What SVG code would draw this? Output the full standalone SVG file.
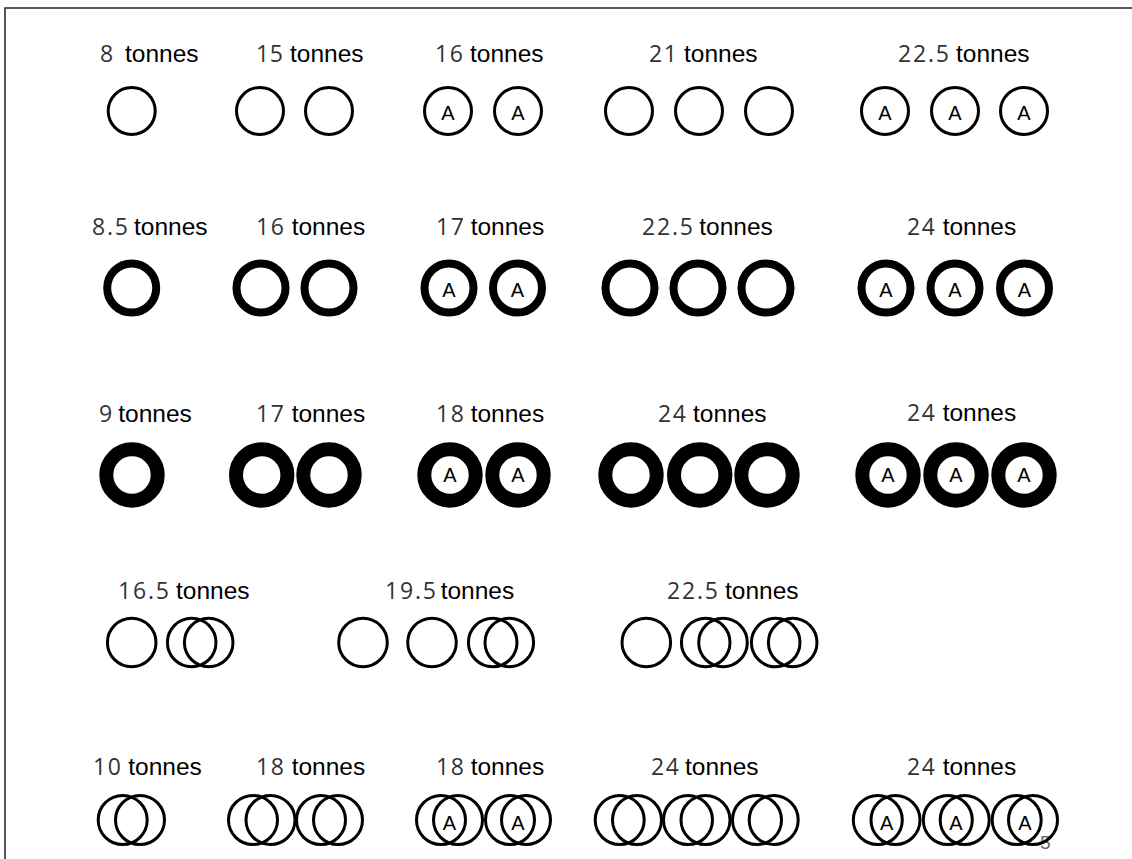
<svg xmlns="http://www.w3.org/2000/svg" width="1132" height="859" viewBox="0 0 1132 859">
<style>
.n{font-family:"Open Sans","Noto Sans",sans-serif;font-size:23px;fill:#333}
.t{font-family:"Liberation Sans",Arial,sans-serif;font-size:24.5px;fill:#000}
.a{font-family:"Liberation Sans",Arial,sans-serif;font-size:20px;fill:#000;text-anchor:middle}
.c1{fill:none;stroke:#000;stroke-width:3}
.c2{fill:none;stroke:#000;stroke-width:8}
.c3{fill:none;stroke:#000;stroke-width:14}
.pg{font-family:"Liberation Sans",Arial,sans-serif;font-size:19px;fill:#666}
</style>
<rect x="0" y="0" width="1132" height="859" fill="#fff"/>
<path d="M5 859V8H1132" fill="none" stroke="#222" stroke-width="1.5"/>
<text class="pg" x="1040" y="849">5</text>

<!-- Row 1 -->
<g id="r1c1">
<text y="62"><tspan class="n" x="100" textLength="13">8</tspan><tspan class="t" x="125">tonnes</tspan></text>
<circle class="c1" cx="131.7" cy="111" r="23.5"/>
</g>
<g id="r1c2">
<text y="62"><tspan class="n" x="256" textLength="27">15</tspan><tspan class="t" x="290">tonnes</tspan></text>
<circle class="c1" cx="260" cy="111" r="23.5"/><circle class="c1" cx="329" cy="111" r="23.5"/>
</g>
<g id="r1c3">
<text y="62"><tspan class="n" x="435" textLength="28">16</tspan><tspan class="t" x="470">tonnes</tspan></text>
<circle class="c1" cx="448" cy="111" r="23.5"/><circle class="c1" cx="518" cy="111" r="23.5"/>
<text class="a" x="448" y="120">A</text><text class="a" x="518" y="120">A</text>
</g>
<g id="r1c4">
<text y="62"><tspan class="n" x="649" textLength="28">21</tspan><tspan class="t" x="684">tonnes</tspan></text>
<circle class="c1" cx="629" cy="111" r="23.5"/><circle class="c1" cx="699" cy="111" r="23.5"/><circle class="c1" cx="769" cy="111" r="23.5"/>
</g>
<g id="r1c5">
<text y="62"><tspan class="n" x="898" textLength="51">22.5</tspan><tspan class="t" x="956">tonnes</tspan></text>
<circle class="c1" cx="885" cy="111" r="23.5"/><circle class="c1" cx="955" cy="111" r="23.5"/><circle class="c1" cx="1024" cy="111" r="23.5"/>
<text class="a" x="885" y="120">A</text><text class="a" x="955" y="120">A</text><text class="a" x="1024" y="120">A</text>
</g>

<!-- Row 2 -->
<g id="r2c1">
<text y="235"><tspan class="n" x="92" textLength="36">8.5</tspan><tspan class="t" x="134">tonnes</tspan></text>
<circle class="c2" cx="131.7" cy="288" r="24.5"/>
</g>
<g id="r2c2">
<text y="235"><tspan class="n" x="256" textLength="28">16</tspan><tspan class="t" x="291.7">tonnes</tspan></text>
<circle class="c2" cx="261" cy="288" r="24.5"/><circle class="c2" cx="329" cy="288" r="24.5"/>
</g>
<g id="r2c3">
<text y="235"><tspan class="n" x="436" textLength="28">17</tspan><tspan class="t" x="470.7">tonnes</tspan></text>
<circle class="c2" cx="449" cy="288" r="24.5"/><circle class="c2" cx="517.5" cy="288" r="24.5"/>
<text class="a" x="449" y="297">A</text><text class="a" x="517.5" y="297">A</text>
</g>
<g id="r2c4">
<text y="235"><tspan class="n" x="642" textLength="51">22.5</tspan><tspan class="t" x="699.3">tonnes</tspan></text>
<circle class="c2" cx="630" cy="288" r="24.5"/><circle class="c2" cx="698" cy="288" r="24.5"/><circle class="c2" cx="766" cy="288" r="24.5"/>
</g>
<g id="r2c5">
<text y="235"><tspan class="n" x="907" textLength="28">24</tspan><tspan class="t" x="942.7">tonnes</tspan></text>
<circle class="c2" cx="886" cy="288" r="24.5"/><circle class="c2" cx="955" cy="288" r="24.5"/><circle class="c2" cx="1024.5" cy="288" r="24.5"/>
<text class="a" x="886" y="297">A</text><text class="a" x="955" y="297">A</text><text class="a" x="1024.5" y="297">A</text>
</g>

<!-- Row 3 -->
<g id="r3c1">
<text y="422"><tspan class="n" x="99" textLength="13">9</tspan><tspan class="t" x="118.3">tonnes</tspan></text>
<circle class="c3" cx="132" cy="475" r="25.7"/>
</g>
<g id="r3c2">
<text y="422"><tspan class="n" x="256" textLength="28">17</tspan><tspan class="t" x="291.7">tonnes</tspan></text>
<circle class="c3" cx="261.7" cy="475" r="25.7"/><circle class="c3" cx="329" cy="475" r="25.7"/>
</g>
<g id="r3c3">
<text y="422"><tspan class="n" x="436" textLength="28">18</tspan><tspan class="t" x="470.7">tonnes</tspan></text>
<circle class="c3" cx="450" cy="475" r="25.7"/><circle class="c3" cx="518" cy="475" r="25.7"/>
<text class="a" x="450" y="482">A</text><text class="a" x="518" y="482">A</text>
</g>
<g id="r3c4">
<text y="422"><tspan class="n" x="658" textLength="28">24</tspan><tspan class="t" x="693">tonnes</tspan></text>
<circle class="c3" cx="631" cy="475" r="25.7"/><circle class="c3" cx="699.7" cy="475" r="25.7"/><circle class="c3" cx="767" cy="475" r="25.7"/>
</g>
<g id="r3c5">
<text y="420.5"><tspan class="n" x="907" textLength="28">24</tspan><tspan class="t" x="942.7">tonnes</tspan></text>
<circle class="c3" cx="888" cy="475" r="25.7"/><circle class="c3" cx="956" cy="475" r="25.7"/><circle class="c3" cx="1024" cy="475" r="25.7"/>
<text class="a" x="888" y="482">A</text><text class="a" x="956" y="482">A</text><text class="a" x="1024" y="482">A</text>
</g>

<!-- Row 4 -->
<g id="r4c1">
<text y="599"><tspan class="n" x="118" textLength="51">16.5</tspan><tspan class="t" x="176">tonnes</tspan></text>
<circle class="c1" cx="131.7" cy="642.5" r="24.3"/><circle class="c1" cx="191.7" cy="642.5" r="24.3"/><circle class="c1" cx="208.7" cy="642.5" r="24.3"/>
</g>
<g id="r4c2">
<text y="599"><tspan class="n" x="385" textLength="51">19.5</tspan><tspan class="t" x="440.7">tonnes</tspan></text>
<circle class="c1" cx="363" cy="642.5" r="24.3"/><circle class="c1" cx="432" cy="642.5" r="24.3"/><circle class="c1" cx="492.7" cy="642.5" r="24.3"/><circle class="c1" cx="509.3" cy="642.5" r="24.3"/>
</g>
<g id="r4c3">
<text y="599"><tspan class="n" x="667" textLength="51">22.5</tspan><tspan class="t" x="725">tonnes</tspan></text>
<circle class="c1" cx="646.3" cy="642.5" r="24.3"/><circle class="c1" cx="705.7" cy="642.5" r="24.3"/><circle class="c1" cx="723" cy="642.5" r="24.3"/><circle class="c1" cx="775.7" cy="642.5" r="24.3"/><circle class="c1" cx="792.7" cy="642.5" r="24.3"/>
</g>

<!-- Row 5 -->
<g id="r5c1">
<text y="775"><tspan class="n" x="93" textLength="28">10</tspan><tspan class="t" x="128.3">tonnes</tspan></text>
<circle class="c1" cx="122.7" cy="820" r="24.5"/><circle class="c1" cx="140" cy="820" r="24.5"/>
</g>
<g id="r5c2">
<text y="775"><tspan class="n" x="256" textLength="28">18</tspan><tspan class="t" x="291.7">tonnes</tspan></text>
<circle class="c1" cx="253" cy="820" r="24.5"/><circle class="c1" cx="270.5" cy="820" r="24.5"/><circle class="c1" cx="321" cy="820" r="24.5"/><circle class="c1" cx="338" cy="820" r="24.5"/>
</g>
<g id="r5c3">
<text y="775"><tspan class="n" x="436" textLength="28">18</tspan><tspan class="t" x="470.7">tonnes</tspan></text>
<circle class="c1" cx="441" cy="820" r="24.5"/><circle class="c1" cx="458" cy="820" r="24.5"/><circle class="c1" cx="510" cy="820" r="24.5"/><circle class="c1" cx="526" cy="820" r="24.5"/>
<text class="a" x="449.5" y="830">A</text><text class="a" x="518" y="830">A</text>
</g>
<g id="r5c4">
<text y="775"><tspan class="n" x="651" textLength="28">24</tspan><tspan class="t" x="685">tonnes</tspan></text>
<circle class="c1" cx="619.7" cy="820" r="24.5"/><circle class="c1" cx="637" cy="820" r="24.5"/><circle class="c1" cx="688" cy="820" r="24.5"/><circle class="c1" cx="705.5" cy="820" r="24.5"/><circle class="c1" cx="757" cy="820" r="24.5"/><circle class="c1" cx="773.7" cy="820" r="24.5"/>
</g>
<g id="r5c5">
<text y="775"><tspan class="n" x="907" textLength="28">24</tspan><tspan class="t" x="942.7">tonnes</tspan></text>
<circle class="c1" cx="877.8" cy="820" r="24.5"/><circle class="c1" cx="895.5" cy="820" r="24.5"/><circle class="c1" cx="947.8" cy="820" r="24.5"/><circle class="c1" cx="964.7" cy="820" r="24.5"/><circle class="c1" cx="1016.7" cy="820" r="24.5"/><circle class="c1" cx="1033" cy="820" r="24.5"/>
<text class="a" x="886.7" y="830">A</text><text class="a" x="956" y="830">A</text><text class="a" x="1025" y="830">A</text>
</g>
</svg>
